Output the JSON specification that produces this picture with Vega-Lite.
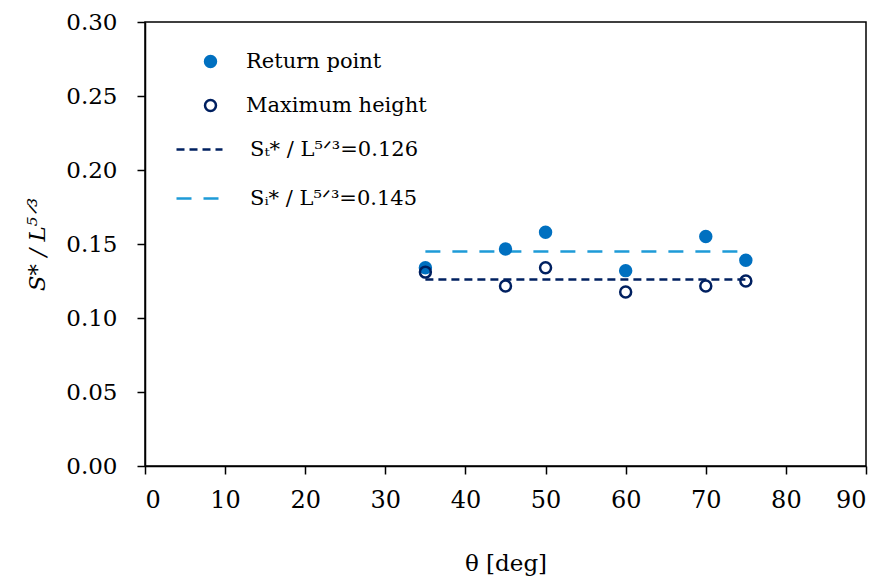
{
  "$schema": "https://vega.github.io/schema/vega-lite/v6.json",
  "width": 721,
  "height": 444,
  "autosize": "none",
  "padding": {"left": 145, "top": 22, "right": 11, "bottom": 111},
  "background": "white",
  "config": {
    "view": {"stroke": "#000", "strokeWidth": 1.5},
    "font": "DejaVu Serif",
    "axis": {
      "grid": false,
      "domainColor": "#000",
      "tickColor": "#000",
      "labelColor": "#000",
      "titleColor": "#000",
      "labelFont": "DejaVu Serif",
      "titleFont": "DejaVu Serif",
      "titleFontSize": 23,
      "titleFontWeight": "normal",
      "tickSize": 8,
      "tickWidth": 1.5,
      "domainWidth": 1.5
    },
    "legend": {
      "labelFont": "DejaVu Serif",
      "labelFontSize": 21,
      "labelColor": "#000",
      "labelLimit": 400,
      "symbolOpacity": 1
    }
  },
  "datasets": {
    "points": [
      {"theta": 35, "s": 0.134, "series": "Return point"},
      {"theta": 45, "s": 0.1466, "series": "Return point"},
      {"theta": 50, "s": 0.158, "series": "Return point"},
      {"theta": 60, "s": 0.132, "series": "Return point"},
      {"theta": 70, "s": 0.155, "series": "Return point"},
      {"theta": 75, "s": 0.139, "series": "Return point"},
      {"theta": 35, "s": 0.131, "series": "Maximum height"},
      {"theta": 45, "s": 0.1216, "series": "Maximum height"},
      {"theta": 50, "s": 0.134, "series": "Maximum height"},
      {"theta": 60, "s": 0.1176, "series": "Maximum height"},
      {"theta": 70, "s": 0.1216, "series": "Maximum height"},
      {"theta": 75, "s": 0.125, "series": "Maximum height"}
    ],
    "lines": [
      {"x1": 35, "x2": 75, "s": 0.126, "fit": "Sₜ* / L⁵ᐟ³=0.126"},
      {"x1": 35, "x2": 75, "s": 0.145, "fit": "Sᵢ* / L⁵ᐟ³=0.145"}
    ]
  },
  "layer": [
    {
      "data": {"name": "lines"},
      "mark": {"type": "rule", "strokeWidth": 2.5},
      "encoding": {
        "x": {"field": "x1", "type": "quantitative"},
        "x2": {"field": "x2"},
        "y": {"field": "s", "type": "quantitative"},
        "stroke": {
          "field": "fit", "type": "nominal",
          "scale": {"domain": ["Sₜ* / L⁵ᐟ³=0.126", "Sᵢ* / L⁵ᐟ³=0.145"], "range": ["#002060", "#1E9BD7"]},
          "legend": {
            "title": null,
            "orient": "none",
            "legendX": 30,
            "legendY": 103,
            "symbolSize": 2116,
            "symbolStrokeWidth": 2.5,
            "labelOffset": 26,
            "rowPadding": 14
          }
        },
        "strokeDash": {
          "field": "fit", "type": "nominal",
          "scale": {"domain": ["Sₜ* / L⁵ᐟ³=0.126", "Sᵢ* / L⁵ᐟ³=0.145"], "range": [[8, 5], [15, 12]]}
        }
      }
    },
    {
      "data": {"name": "points"},
      "mark": {"type": "point", "shape": "circle", "size": 120, "strokeWidth": 2.5, "opacity": 1},
      "encoding": {
        "x": {
          "field": "theta", "type": "quantitative",
          "scale": {"domain": [0, 90], "nice": false},
          "axis": {"values": [0,10,20,30,40,50,60,70,80,90], "title": "θ [deg]", "titlePadding": 40, "labelFontSize": 24, "labelPadding": 14}
        },
        "y": {
          "field": "s", "type": "quantitative",
          "scale": {"domain": [0, 0.3], "nice": false, "zero": false},
          "axis": {"values": [0, 0.05, 0.1, 0.15, 0.2, 0.25, 0.3], "format": ".2f", "title": "S* / L⁵ᐟ³", "titleFontStyle": "italic", "titlePadding": 16, "labelFontSize": 23, "labelPadding": 20}
        },
        "color": {
          "field": "series", "type": "nominal",
          "scale": {"domain": ["Return point", "Maximum height"], "range": ["#0070C0", "#002060"]},
          "legend": {
            "title": null,
            "orient": "none",
            "legendX": 55,
            "legendY": 29,
            "symbolSize": 120,
            "symbolStrokeWidth": 2.5,
            "labelOffset": 25,
            "rowPadding": 22
          }
        },
        "fill": {
          "field": "series", "type": "nominal",
          "scale": {"domain": ["Return point", "Maximum height"], "range": ["#0070C0", "transparent"]}
        }
      }
    }
  ]
}
